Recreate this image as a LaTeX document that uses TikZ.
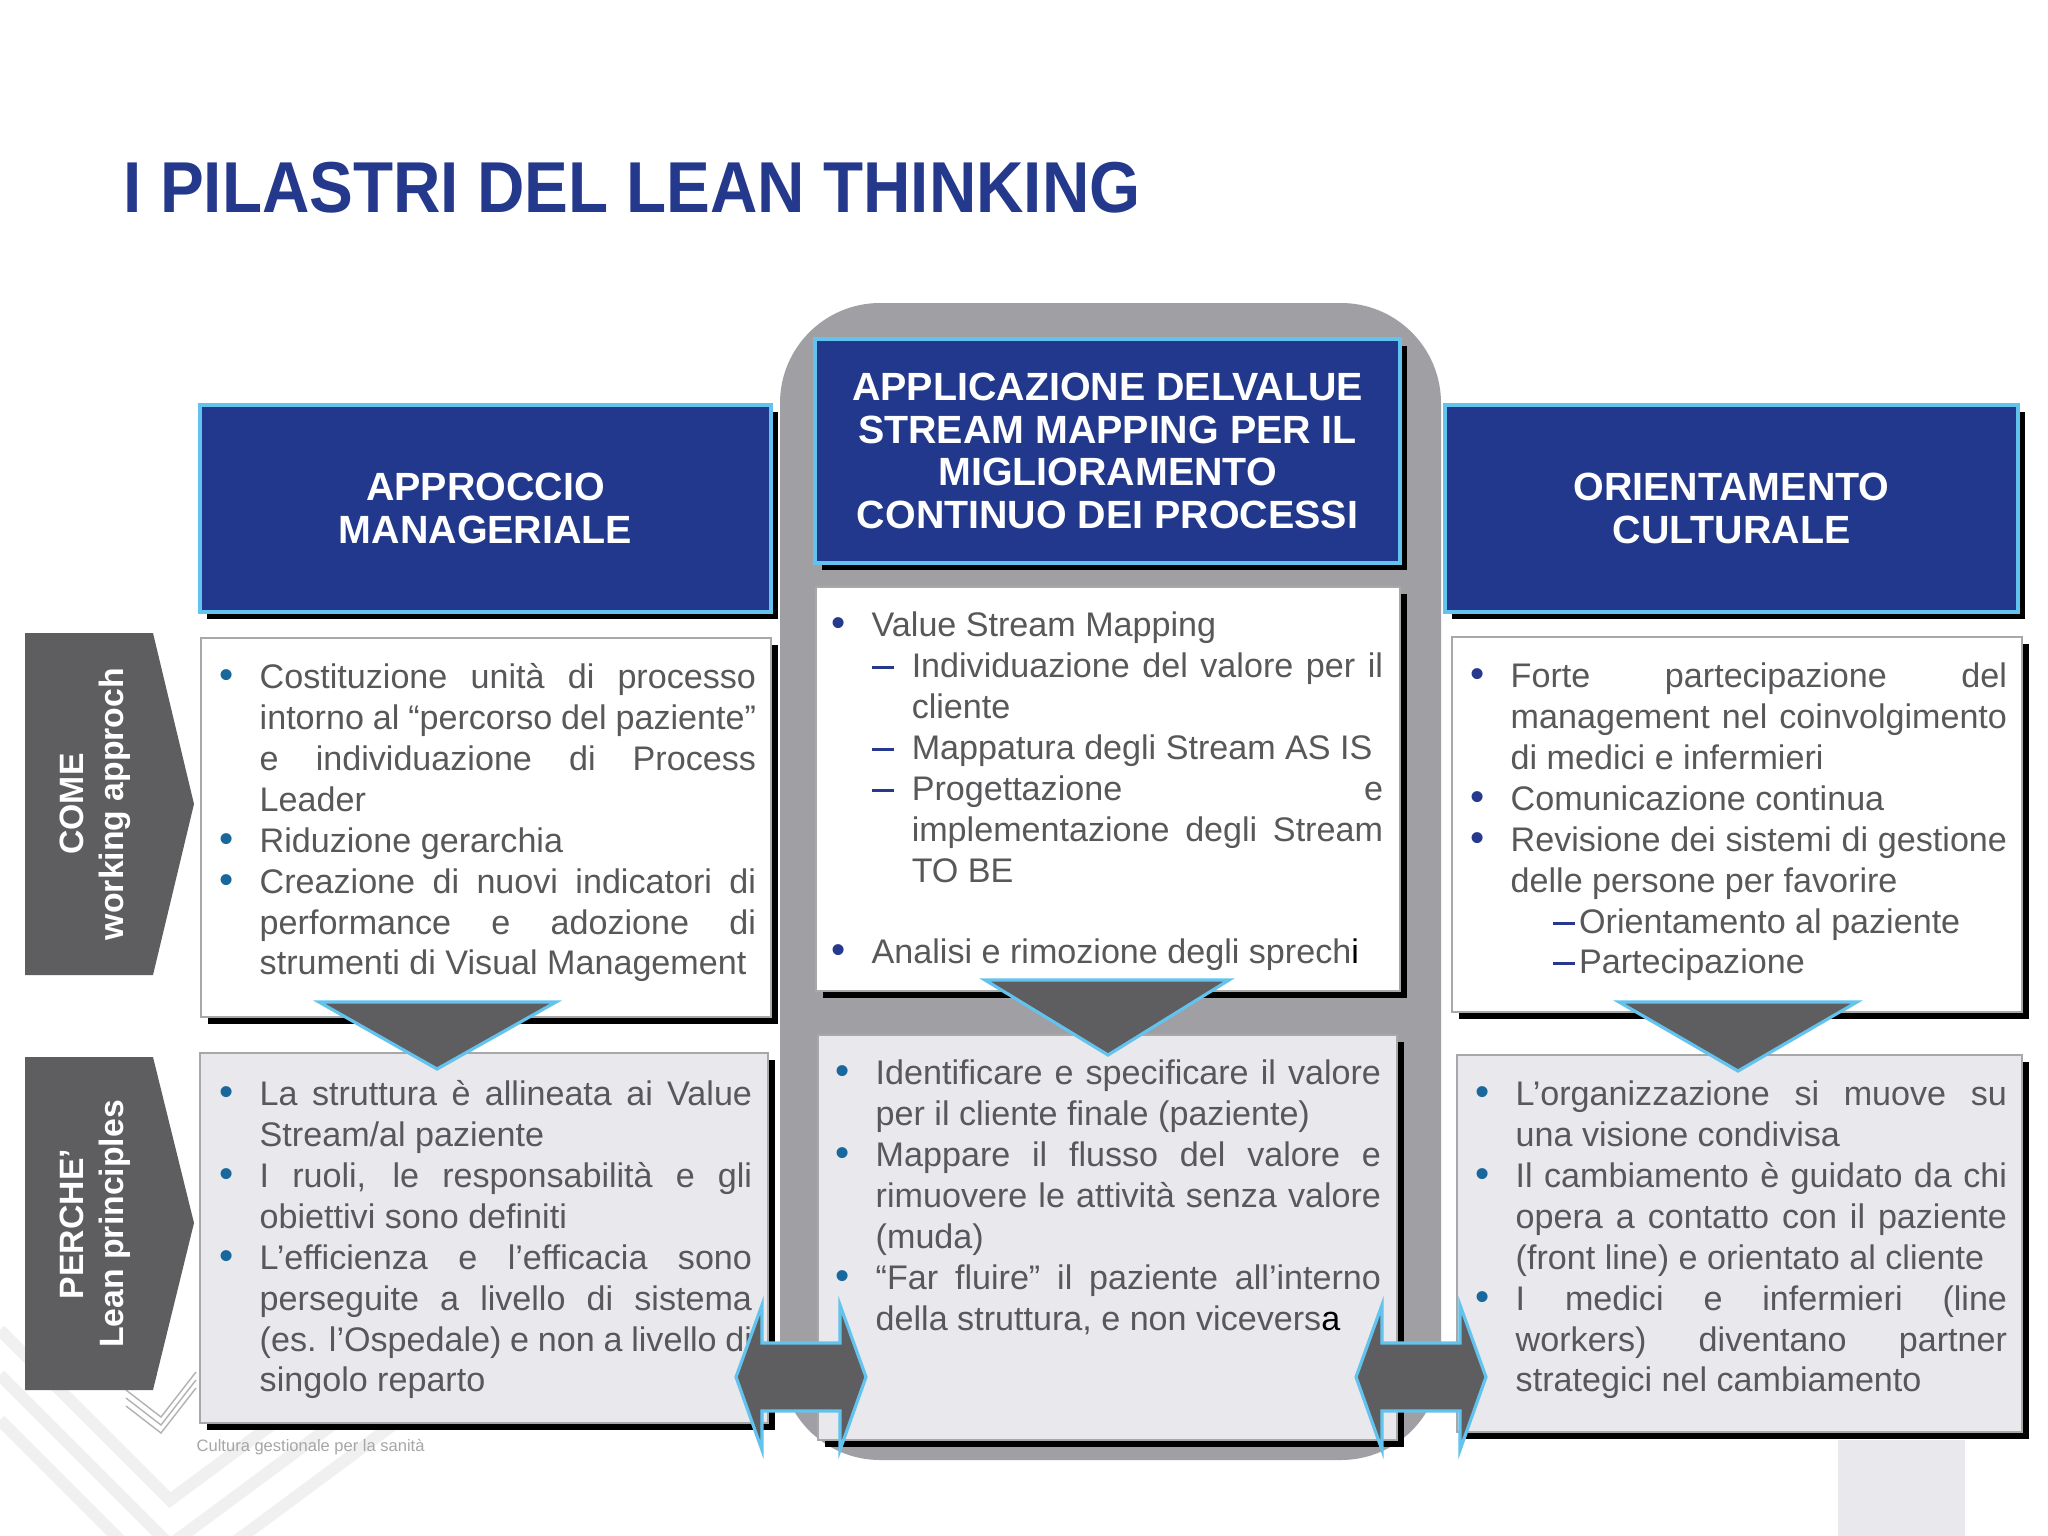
\documentclass[tikz,border=0pt]{standalone}
\usepackage{fontspec}
\setmainfont{Liberation Sans}
\newfontfamily\titlefont[FakeStretch=0.91]{Liberation Sans}
\usepackage{tikz}
\usetikzlibrary{positioning}
\usepackage{xcolor}
\definecolor{titleblue}{HTML}{24398C}
\definecolor{headblue}{HTML}{22388C}
\definecolor{edgeblue}{HTML}{62C4EE}
\definecolor{pillar}{HTML}{A09FA4}
\definecolor{darkarrow}{HTML}{5E5E60}
\definecolor{lightbox}{HTML}{E9E8EC}
\definecolor{boxedge}{HTML}{A8A8A8}
\definecolor{txtgray}{HTML}{58585A}
\definecolor{dotteal}{HTML}{1A679B}
\definecolor{dotnavy}{HTML}{26398E}
\tolerance=10000
\hyphenpenalty=10000
\newcommand{\navydash}{\textcolor{dotnavy}{\rule[2.4pt]{6.4pt}{0.85pt}}}
\newcommand{\bul}[1]{\par\noindent\hangindent=0.4cm\hangafter=1\makebox[0.4cm][l]{\strut\textcolor{#1}{\fontsize{11.5}{11.5}\selectfont\textbullet}}\ignorespaces}
\newcommand{\dashitem}{\par\noindent\hangindent=0.8cm\hangafter=1\hspace*{0.4cm}\makebox[0.4cm][l]{\strut\navydash}\ignorespaces}
\newcommand{\dashline}{\par\noindent\hspace*{0.82cm}\strut\navydash\hspace{1.1pt}\ignorespaces}
\tikzset{
	hdrbox/.style={fill=headblue, draw=edgeblue, line width=0.9pt},
	panel/.style={draw=boxedge, line width=0.5pt},
	downtri/.style={fill=darkarrow, draw=edgeblue, line width=0.9pt, line join=miter},
	hdrtext/.style={text=white, font=\fontsize{11.2}{12.1}\selectfont\bfseries, align=center, inner sep=0pt},
	bodytext/.style={text=txtgray, font=\fontsize{9.7}{11.63}\selectfont, align=justify, inner sep=0pt, anchor=north west},
	sidetext/.style={text=white, font=\fontsize{9.6}{11.4}\selectfont\bfseries, align=center, rotate=90, inner sep=0pt},
	stripe/.style={draw=black!6, line width=0.12cm}
}

\begin{document}
\begin{tikzpicture}[x=0.01cm, y=-0.01cm]
	\useasboundingbox[fill=white] (0,0) rectangle (2048,1536);

	% faint background marks
	\foreach \d in {0, 45, 90} \draw[stripe] (0,1330+\d) -- (170,1500+\d) -- (440,1300+\d);
	\foreach \d in {0, 8, 16} \draw[black!30, line width=0.4pt] (126,1390+\d) -- (161,1417+\d) -- (196,1372+\d);
	\fill[lightbox] (1838,1440) rectangle (1965,1536);
	\node[anchor=west, text=black!35, font=\fontsize{4.7}{5.5}\selectfont, inner sep=0pt] (caption) at (196,1447) {Cultura gestionale per la sanità};

	% title
	\node[anchor=base west, text=titleblue, font=\titlefont\bfseries\fontsize{20.5}{24}\selectfont, inner sep=0pt] (title) at (123,212) {I PILASTRI DEL LEAN THINKING};

	% middle pillar
	\fill[pillar, rounded corners=1cm] (780,303) rectangle (1441,1460);

	% side labels
	\fill[darkarrow] (25,633) -- (153,633) -- (194,804) -- (153,975) -- (25,975) -- cycle;
	\fill[darkarrow] (25,1057) -- (153,1057) -- (194,1223) -- (153,1390) -- (25,1390) -- cycle;
	\node[sidetext] (come) at (95,804) {COME\\working approch};
	\node[sidetext] (perche) at (95,1224) {PERCHE’\\Lean principles};

	% header boxes
	\fill[black] (207,412) rectangle (778,619);
	\draw[hdrbox] (200,405) rectangle (771,612);
	\fill[black] (822,346) rectangle (1407,570);
	\draw[hdrbox] (815,339) rectangle (1400,563);
	\fill[black] (1452,412) rectangle (2025,619);
	\draw[hdrbox] (1445,405) rectangle (2018,612);
	\node[hdrtext] (hdrL) at (485.5,508.5) {APPROCCIO\\MANAGERIALE};
	\node[hdrtext] (hdrM) at (1107.5,451) {APPLICAZIONE DELVALUE\\STREAM MAPPING PER IL\\MIGLIORAMENTO\\CONTINUO DEI PROCESSI};
	\node[hdrtext] (hdrR) at (1731.5,508.5) {ORIENTAMENTO\\CULTURALE};

	% upper panels
	\fill[black] (208,645) rectangle (778,1024);
	\draw[panel, fill=white] (201,638) rectangle (771,1017);
	\fill[black] (823,594) rectangle (1407,998);
	\draw[panel, fill=white] (816,587) rectangle (1400,991);
	\fill[black] (1459,644) rectangle (2029,1019);
	\draw[panel, fill=white] (1452,637) rectangle (2022,1012);

	% lower panels
	\fill[black] (207,1060) rectangle (775,1430);
	\draw[panel, fill=lightbox] (200,1053) rectangle (768,1423);
	\fill[black] (825,1042) rectangle (1404,1447);
	\draw[panel, fill=lightbox] (818,1035) rectangle (1397,1440);
	\fill[black] (1464,1062) rectangle (2029,1439);
	\draw[panel, fill=lightbox] (1457,1055) rectangle (2022,1432);

	% panel texts
	\node[bodytext, text width=5.36cm] (txtLT) at (219,647) {%
		\bul{dotteal}Costituzione unità di processo\linebreak intorno al “percorso del paziente”\linebreak e individuazione di Process\linebreak Leader
		\bul{dotteal}Riduzione gerarchia
		\bul{dotteal}Creazione di nuovi indicatori di\linebreak performance e adozione di\linebreak strumenti di Visual Management\par};
	\node[bodytext, text width=5.51cm] (txtMT) at (831,595) {%
		\bul{dotnavy}Value Stream Mapping
		\dashitem Individuazione del valore per il\linebreak cliente
		\dashitem Mappatura degli Stream AS IS
		\dashitem Progettazione e\linebreak implementazione degli Stream\linebreak TO BE
		\par\noindent\strut
		\bul{dotnavy}Analisi e rimozione degli sprech\textcolor{black}{i}\par};
	\node[bodytext, text width=5.36cm] (txtRT) at (1470,646) {%
		\bul{dotnavy}Forte partecipazione del\linebreak management nel coinvolgimento\linebreak di medici e infermieri
		\bul{dotnavy}Comunicazione continua
		\bul{dotnavy}Revisione dei sistemi di gestione\linebreak delle persone per favorire
		\dashline Orientamento al paziente
		\dashline Partecipazione\par};
	\node[bodytext, text width=5.32cm] (txtLB) at (219,1064) {%
		\bul{dotteal}La struttura è allineata ai Value\linebreak Stream/al paziente
		\bul{dotteal}I ruoli, le responsabilità e gli\linebreak obiettivi sono definiti
		\bul{dotteal}L’efficienza e l’efficacia sono\linebreak perseguite a livello di sistema\linebreak (es. l’Ospedale) e non a livello di\linebreak singolo reparto\par};
	\node[bodytext, text width=5.45cm] (txtMB) at (835,1043) {%
		\bul{dotteal}Identificare e specificare il valore\linebreak per il cliente finale (paziente)
		\bul{dotteal}Mappare il flusso del valore e\linebreak rimuovere le attività senza valore\linebreak (muda)
		\bul{dotteal}“Far fluire” il paziente all’interno\linebreak della struttura, e non vicevers\textcolor{black}{a}\par};
	\node[bodytext, text width=5.31cm] (txtRB) at (1475,1064) {%
		\bul{dotteal}L’organizzazione si muove su\linebreak una visione condivisa
		\bul{dotteal}Il cambiamento è guidato da chi\linebreak opera a contatto con il paziente\linebreak (front line) e orientato al cliente
		\bul{dotteal}I medici e infermieri (line\linebreak workers) diventano partner\linebreak strategici nel cambiamento\par};

	% down triangles
	\draw[downtri] (319,1002) -- (556,1002) -- (437,1069) -- cycle;
	\draw[downtri] (985,980) -- (1229,980) -- (1108,1055) -- cycle;
	\draw[downtri] (1619,1002) -- (1857,1002) -- (1738,1071) -- cycle;

	% double arrows
	\foreach \a in {736, 1356}
		\draw[downtri] (\a,1377) -- (\a+26,1305) -- (\a+26,1343) -- (\a+104,1343) -- (\a+104,1305) -- (\a+130,1377)
			-- (\a+104,1450) -- (\a+104,1411) -- (\a+26,1411) -- (\a+26,1450) -- cycle;

\end{tikzpicture}
\end{document}
